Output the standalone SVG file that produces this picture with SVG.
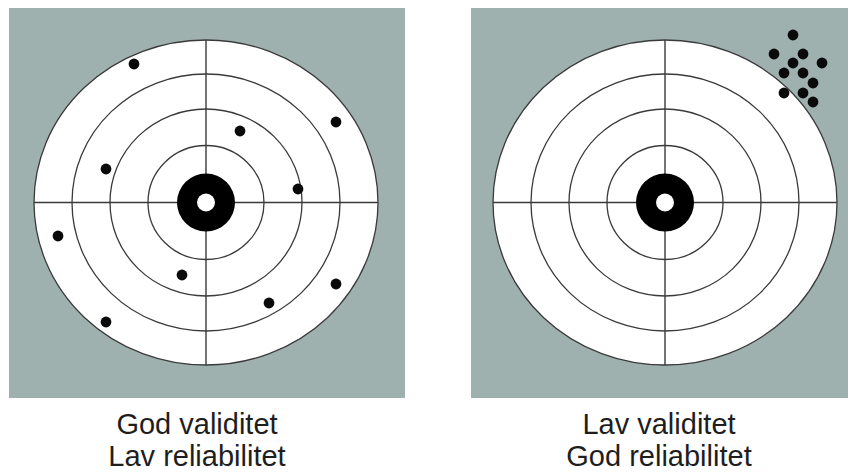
<svg xmlns="http://www.w3.org/2000/svg" width="848" height="475" viewBox="0 0 848 475">
<style>
.panel{fill:#9fb1af}
.ring{fill:none;stroke:#3a3a3a;stroke-width:1.3}
.outer{fill:#ffffff;stroke:#3a3a3a;stroke-width:1.3}
.cross{stroke:#3a3a3a;stroke-width:1.4}
.dot{fill:#0a0a0a}
.bull{fill:#000}
.hole{fill:#fff}
.label{font-family:"Liberation Sans",Arial,sans-serif;font-size:29px;fill:#1e1e1e;text-anchor:middle}
</style>
<defs>
<g id="target">
<ellipse class="outer" cx="0" cy="0" rx="172" ry="162.5"/>
<ellipse class="ring" cx="0" cy="0" rx="134" ry="128.5"/>
<ellipse class="ring" cx="0" cy="0" rx="96" ry="93.5"/>
<ellipse class="ring" cx="0" cy="0" rx="58" ry="57"/>
<line class="cross" x1="-172" y1="0" x2="172" y2="0"/>
<line class="cross" x1="0" y1="-162.5" x2="0" y2="162.5"/>
<circle class="bull" cx="0" cy="0" r="29"/>
<circle class="hole" cx="0" cy="0" r="9"/>
</g>
</defs>
<g id="left-panel">
<rect class="panel" x="9" y="8" width="396" height="390"/>
<use href="#target" x="206" y="202.5"/>
<g id="left-dots">
<circle class="dot" cx="134" cy="64" r="5.4"/>
<circle class="dot" cx="336" cy="122" r="5.4"/>
<circle class="dot" cx="240" cy="131" r="5.4"/>
<circle class="dot" cx="106" cy="169" r="5.4"/>
<circle class="dot" cx="298" cy="189" r="5.4"/>
<circle class="dot" cx="58" cy="236" r="5.4"/>
<circle class="dot" cx="182" cy="275" r="5.4"/>
<circle class="dot" cx="336" cy="284" r="5.4"/>
<circle class="dot" cx="269" cy="303" r="5.4"/>
<circle class="dot" cx="106" cy="322" r="5.4"/>
</g>
<text class="label" x="197" y="434">God validitet</text>
<text class="label" x="197" y="466">Lav reliabilitet</text>
</g>
<g id="right-panel">
<rect class="panel" x="471" y="8" width="377" height="390"/>
<use href="#target" x="665" y="202.5"/>
<g id="right-dots">
<circle class="dot" cx="793" cy="35" r="5.4"/>
<circle class="dot" cx="774" cy="54" r="5.4"/>
<circle class="dot" cx="803" cy="54" r="5.4"/>
<circle class="dot" cx="793" cy="63" r="5.4"/>
<circle class="dot" cx="822" cy="63" r="5.4"/>
<circle class="dot" cx="784" cy="73" r="5.4"/>
<circle class="dot" cx="803" cy="73" r="5.4"/>
<circle class="dot" cx="813" cy="83" r="5.4"/>
<circle class="dot" cx="784" cy="93" r="5.4"/>
<circle class="dot" cx="803" cy="93" r="5.4"/>
<circle class="dot" cx="813" cy="102" r="5.4"/>
</g>
<text class="label" x="659" y="434">Lav validitet</text>
<text class="label" x="659" y="466">God reliabilitet</text>
</g>
<g id="connectors"/>
</svg>
